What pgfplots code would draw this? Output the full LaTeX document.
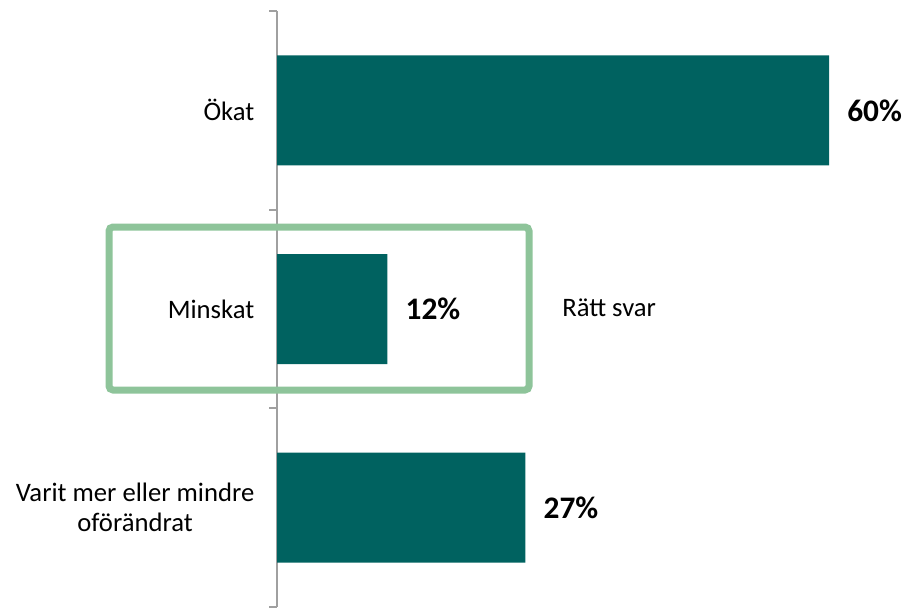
\documentclass[border=0pt]{standalone}
\usepackage{fontspec}
\setmainfont{Carlito}
\usepackage{pgfplots}
\pgfplotsset{compat=1.18}
\definecolor{barc}{RGB}{0,98,96}
\definecolor{boxg}{RGB}{142,196,154}
\definecolor{axg}{RGB}{160,160,160}
\begin{document}
\begin{tikzpicture}
\begin{scope}[x=0.75pt,y=-0.75pt]
\useasboundingbox (0,0) rectangle (905,610);
\end{scope}
\begin{axis}[
  at={(207.75pt,-455.25pt)}, anchor=south west,
  scale only axis, width=414pt, height=447pt,
  xmin=0, xmax=60, ymin=-0.5, ymax=2.5,
  clip=false,
  /pgf/number format/assume math mode=true,
  axis x line=none, axis y line*=left,
  y axis line style={draw=axg, line width=1.5pt},
  ytick={0,1,2},
  yticklabels={{Varit mer eller mindre\\oförändrat},Minskat,Ökat},
  yticklabel style={align=center, font=\fontsize{20}{22.5}\selectfont, xshift=-7.5pt},
  major tick length=6pt, tick align=outside,
  ytick style={draw=none},
  extra y ticks={-0.5,0.5,1.5,2.5},
  extra y tick labels={},
  extra y tick style={ytick style={draw=axg, line width=1.5pt}},
]
\addplot[xbar, fill=barc, draw=none, bar width=82.5pt,
  point meta=x,
  nodes near coords={\pgfmathprintnumber{\pgfplotspointmeta}\%},
  every node near coord/.append style={anchor=west, inner sep=0pt, xshift=13.5pt, text=black, font=\bfseries\fontsize{23.5}{27}\selectfont}]
  table[x=x,y=y]{
y x
2 60
1 12
0 27
};
\end{axis}
\begin{scope}[x=0.75pt,y=-0.75pt]
\draw[boxg, line width=5.25pt, rounded corners=3pt] (109,227) rectangle (529,390);
\node[anchor=west, inner sep=0pt, font=\fontsize{20}{22.5}\selectfont] at (562,308) {Rätt svar};
\end{scope}
\end{tikzpicture}
\end{document}
